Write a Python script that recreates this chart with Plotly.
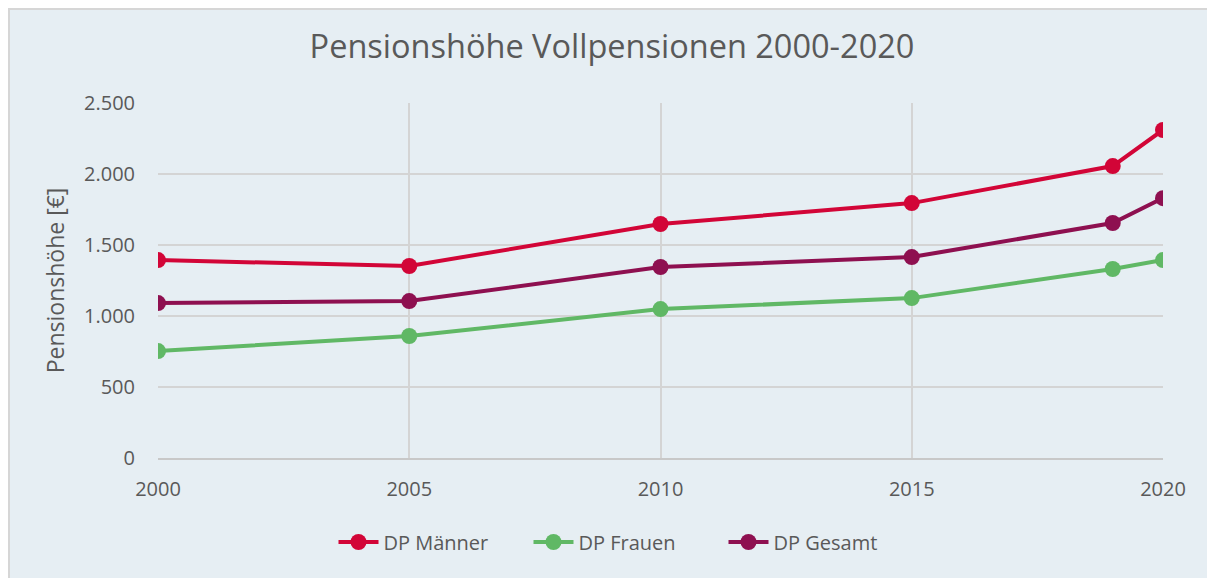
import plotly.graph_objects as go

years = [2000, 2005, 2010, 2015, 2019, 2020]
maenner = [1394, 1352, 1648, 1795, 2056, 2310]
frauen = [753, 859, 1049, 1126, 1331, 1394]
gesamt = [1091, 1105, 1345, 1415, 1655, 1830]

series = [
    ("DP Männer", maenner, "#D20537"),
    ("DP Frauen", frauen, "#60B865"),
    ("DP Gesamt", gesamt, "#8E1050"),
]

# page body has an 8px margin: the figure starts at (8, 8)
W, H = 1207, 570
L, R, T, B = 150, 52, 95, 120
BG = "#E6EEF3"
TXT = "#595959"
FONT = "Open Sans"

fig = go.Figure()
for name, vals, col in series:
    fig.add_trace(go.Scatter(
        x=years, y=vals, name=name, mode="lines+markers",
        line=dict(color=col, width=4),
        marker=dict(color=col, size=16),
    ))

pw = W - L - R
ph = H - T - B
fig.add_shape(type="rect", xref="paper", yref="paper",
              x0=-(L - 1) / pw, x1=1 + (R + 20) / pw,
              y0=-(B + 20) / ph, y1=1 + (T - 1) / ph,
              line=dict(color="#D6D6D6", width=2), fillcolor="rgba(0,0,0,0)", layer="below")

fig.update_layout(
    width=W, height=H,
    margin=dict(l=L, r=R, t=T, b=B),
    paper_bgcolor=BG, plot_bgcolor=BG,
    separators=",.",
    font=dict(family=FONT, color=TXT, size=20),
    title=dict(text="Pensionshöhe Vollpensionen 2000-2020", xref="container", x=(612 - 8) / W,
               xanchor="center", y=1 - 39 / H, yanchor="middle",
               font=dict(size=32.5, color=TXT, family=FONT)),
    legend=dict(orientation="h", x=(626 - 8 - L) / pw, xanchor="center", y=-(542 - 458) / ph,
                yanchor="middle", font=dict(size=20, color=TXT), itemwidth=40,
                entrywidth=140, entrywidthmode="pixels", bgcolor="rgba(0,0,0,0)"),
    showlegend=True,
)
fig.update_xaxes(
    range=[2000, 2020], tickvals=[2000, 2005, 2010, 2015, 2020], tickformat="d",
    showgrid=True, gridcolor="#D4D4D4", gridwidth=1.5,
    showline=True, linecolor="#C8C8C8", linewidth=1.5, mirror=False,
    zeroline=False, ticklabelstandoff=12, tickfont=dict(size=20, color=TXT),
)
fig.update_yaxes(
    range=[0, 2500], dtick=500, tickformat=",d",
    showgrid=True, gridcolor="#D4D4D4", gridwidth=1.5,
    zeroline=False, showline=False, ticklabelstandoff=22,
    title=dict(text="Pensionshöhe [€]", font=dict(size=23, color=TXT), standoff=12),
    tickfont=dict(size=20, color=TXT),
)
fig.write_html("out.html")
